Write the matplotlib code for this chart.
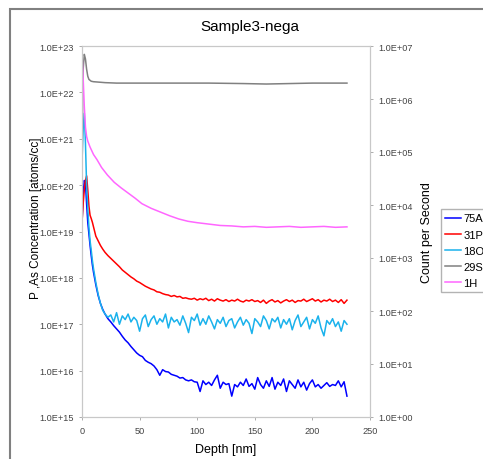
import matplotlib
matplotlib.use('Agg')
import matplotlib.pyplot as plt
from matplotlib.patches import Rectangle
from matplotlib.ticker import LogLocator, NullLocator, FuncFormatter
import numpy as np

plt.rcParams['font.family'] = ['Liberation Sans', 'DejaVu Sans']

# depth grid shared by the three noisy profiles [nm]
depth = [0, 1, 2, 3, 4, 5, 6, 7, 8, 9, 10, 12, 14, 16, 18, 20,
         22.5, 25, 27.5, 30, 32.5, 35, 37.5, 40, 42.5, 45, 47.5, 50,
         52.5, 55, 57.5, 60, 62.5, 65, 67.5, 70, 72.5, 75, 77.5, 80,
         82.5, 85, 87.5, 90, 92.5, 95, 97.5, 100, 102.5, 105, 107.5, 110,
         112.5, 115, 117.5, 120, 122.5, 125, 127.5, 130, 132.5, 135, 137.5, 140,
         142.5, 145, 147.5, 150, 152.5, 155, 157.5, 160, 162.5, 165, 167.5, 170,
         172.5, 175, 177.5, 180, 182.5, 185, 187.5, 190, 192.5, 195, 197.5, 200,
         202.5, 205, 207.5, 210, 212.5, 215, 217.5, 220, 222.5, 225, 227.5, 230]

# log10 of concentration
as75 = [19.16, 19.8, 20.1, 20.05, 19.6, 19.2, 18.95, 18.7, 18.48, 18.28, 18.12, 17.85, 17.62, 17.45, 17.32, 17.22,
        17.12, 17.05, 16.97, 16.9, 16.83, 16.74, 16.66, 16.6, 16.52, 16.45, 16.38, 16.33,
        16.3, 16.22, 16.18, 16.15, 16.1, 16.02, 15.9, 16.02, 15.98, 15.97, 15.92, 15.9,
        15.88, 15.84, 15.85, 15.8, 15.78, 15.8, 15.76, 15.75, 15.55, 15.78, 15.7, 15.75,
        15.68, 15.8, 15.9, 15.62, 15.75, 15.7, 15.72, 15.45, 15.7, 15.65, 15.75, 15.68,
        15.82, 15.66, 15.72, 15.6, 15.85, 15.7, 15.62, 15.78, 15.66, 15.85, 15.6, 15.75,
        15.68, 15.82, 15.55, 15.78, 15.7, 15.62, 15.8, 15.65, 15.75, 15.58, 15.72, 15.8,
        15.65, 15.7, 15.62, 15.68, 15.74, 15.66, 15.7, 15.68, 15.78, 15.65, 15.76, 15.45]

p31 = [19.2, 19.6, 19.9, 20.1, 20.2, 19.9, 19.55, 19.35, 19.28, 19.2, 19.1, 18.9, 18.8, 18.7, 18.62, 18.55,
       18.48, 18.42, 18.36, 18.3, 18.24, 18.17, 18.12, 18.07, 18.02, 17.98, 17.93, 17.9,
       17.86, 17.82, 17.79, 17.76, 17.74, 17.7, 17.69, 17.66, 17.64, 17.63, 17.6, 17.62,
       17.59, 17.6, 17.56, 17.57, 17.55, 17.54, 17.56, 17.52, 17.55, 17.53, 17.56, 17.51,
       17.54, 17.5, 17.55, 17.52, 17.5, 17.53, 17.49, 17.52, 17.5, 17.54, 17.5, 17.48,
       17.52, 17.5, 17.53, 17.49, 17.51, 17.47, 17.52, 17.45, 17.5, 17.53, 17.48, 17.51,
       17.46, 17.5, 17.53, 17.49, 17.52, 17.47, 17.51, 17.5, 17.54, 17.49, 17.52, 17.55,
       17.5, 17.53, 17.48, 17.52, 17.5, 17.54, 17.49, 17.52, 17.47, 17.53, 17.45, 17.52]

o18 = [20.5, 21.2, 21.55, 20.9, 20.0, 19.5, 19.1, 18.8, 18.6, 18.38, 18.2, 17.9, 17.65, 17.45, 17.3, 17.22,
       17.15, 17.2, 17.05, 17.25, 17.0, 17.18, 17.1, 17.22, 17.05, 17.15, 17.08, 16.85,
       17.12, 17.2, 16.95, 17.1, 17.18, 17.0, 17.12, 17.05, 17.22, 16.92, 17.15, 17.05,
       17.1, 16.98, 17.18, 17.02, 16.82, 17.15, 17.08, 17.22, 16.98, 17.12, 17.0, 17.18,
       17.05, 16.9, 17.1, 17.02, 17.15, 16.95, 17.08, 17.12, 16.92, 17.05, 17.15, 16.98,
       17.1, 17.02, 16.8, 17.12, 17.05, 16.95, 17.18, 17.08, 16.9, 17.12, 17.05, 17.15,
       16.92, 17.1, 17.0, 17.12, 16.88, 17.08, 17.2, 16.95, 17.05, 17.15, 16.9, 17.1,
       17.02, 17.18, 16.92, 16.75, 17.08, 17.0, 17.12, 16.95, 17.05, 16.85, 17.08, 17.0]

# smoother profiles on their own depth points
si_depth = [0, 1, 2, 3, 4, 5, 6, 8, 10, 15, 20, 30, 50, 80, 110, 140, 160, 180, 200, 230]
si29 = [20.7, 22.5, 22.82, 22.72, 22.5, 22.35, 22.28, 22.24, 22.23, 22.22, 22.21, 22.2,
        22.2, 22.2, 22.2, 22.19, 22.18, 22.19, 22.2, 22.2]

h_depth = [0, 1, 2, 3, 4, 5, 7, 10, 13, 17, 22, 28, 34, 40, 46, 52, 60, 68, 76, 84,
           92, 100, 110, 120, 130, 140, 150, 160, 170, 180, 190, 200, 210, 220, 230]
h1 = [22.83, 22.3, 21.7, 21.25, 21.05, 20.95, 20.82, 20.66, 20.55, 20.38, 20.22, 20.06,
      19.94, 19.83, 19.72, 19.6, 19.5, 19.42, 19.34, 19.27, 19.22, 19.19, 19.16, 19.13,
      19.12, 19.1, 19.11, 19.09, 19.1, 19.11, 19.09, 19.1, 19.11, 19.09, 19.1]

labels = ['75As', '31P', '18O', '29Si', '1H']
colors = ['#0000ff', '#ff0000', '#1ab2ec', '#808080', '#ff66ff']


def sci(v, pos):
    return '1.0E+%02d' % int(round(np.log10(v)))


fig = plt.figure(figsize=(4.83, 4.6), dpi=100)
fig.patches.append(Rectangle((10 / 483, -0.1), 1.2, 1.1 - 10 / 460, transform=fig.transFigure,
                             fill=False, edgecolor='#808080', linewidth=1.5))

ax = fig.add_axes([82 / 483, 42 / 460, 288 / 483, 371 / 460])
series = [(depth, as75), (depth, p31), (depth, o18), (si_depth, si29), (h_depth, h1)]
lines = []
for (x, y), lab, c in zip(series, labels, colors):
    ln, = ax.plot(x, 10 ** np.array(y), color=c, linewidth=1.1, label=lab)
    lines.append(ln)

ax.set_yscale('log')
ax.set_ylim(1e15, 1e23)
ax.set_xlim(0, 250)
ax.set_xticks([0, 50, 100, 150, 200, 250])
ax.yaxis.set_major_locator(LogLocator(base=10, numticks=20))
ax.yaxis.set_minor_locator(NullLocator())
ax.yaxis.set_major_formatter(FuncFormatter(sci))

ax2 = ax.twinx()
ax2.set_yscale('log')
ax2.set_ylim(1, 1e7)
ax2.yaxis.set_major_locator(LogLocator(base=10, numticks=20))
ax2.yaxis.set_minor_locator(NullLocator())
ax2.yaxis.set_major_formatter(FuncFormatter(sci))

for a in (ax, ax2):
    for s in a.spines.values():
        s.set_color('#c8c8c8')
        s.set_linewidth(0.8)
    a.tick_params(labelsize=6.6, length=2.5, width=0.6, color='#a0a0a0', labelcolor='#444444')
ax.tick_params(axis='x', pad=4)

ax.set_xlabel('Depth [nm]', fontsize=9)
ax.xaxis.set_label_coords(144 / 288, -26 / 371)
ax.set_ylabel('P ,As Concentration [atoms/cc]', fontsize=8.5)
ax.yaxis.set_label_coords(-40 / 288, 200 / 371)
ax2.set_ylabel('Count per Second', fontsize=9, labelpad=6)
fig.text(250 / 483, 1 - 27 / 460, 'Sample3-nega', ha='center', va='center', fontsize=11)

fig.legend(lines, labels, loc='upper left', bbox_to_anchor=(441 / 483, 1 - 210 / 460),
           fontsize=8, frameon=True, fancybox=False, edgecolor='#a0a0a0', handlelength=1.4,
           handletextpad=0.2, labelspacing=0.55, borderpad=0.4, borderaxespad=0)

fig.savefig('out.png', dpi=100)
